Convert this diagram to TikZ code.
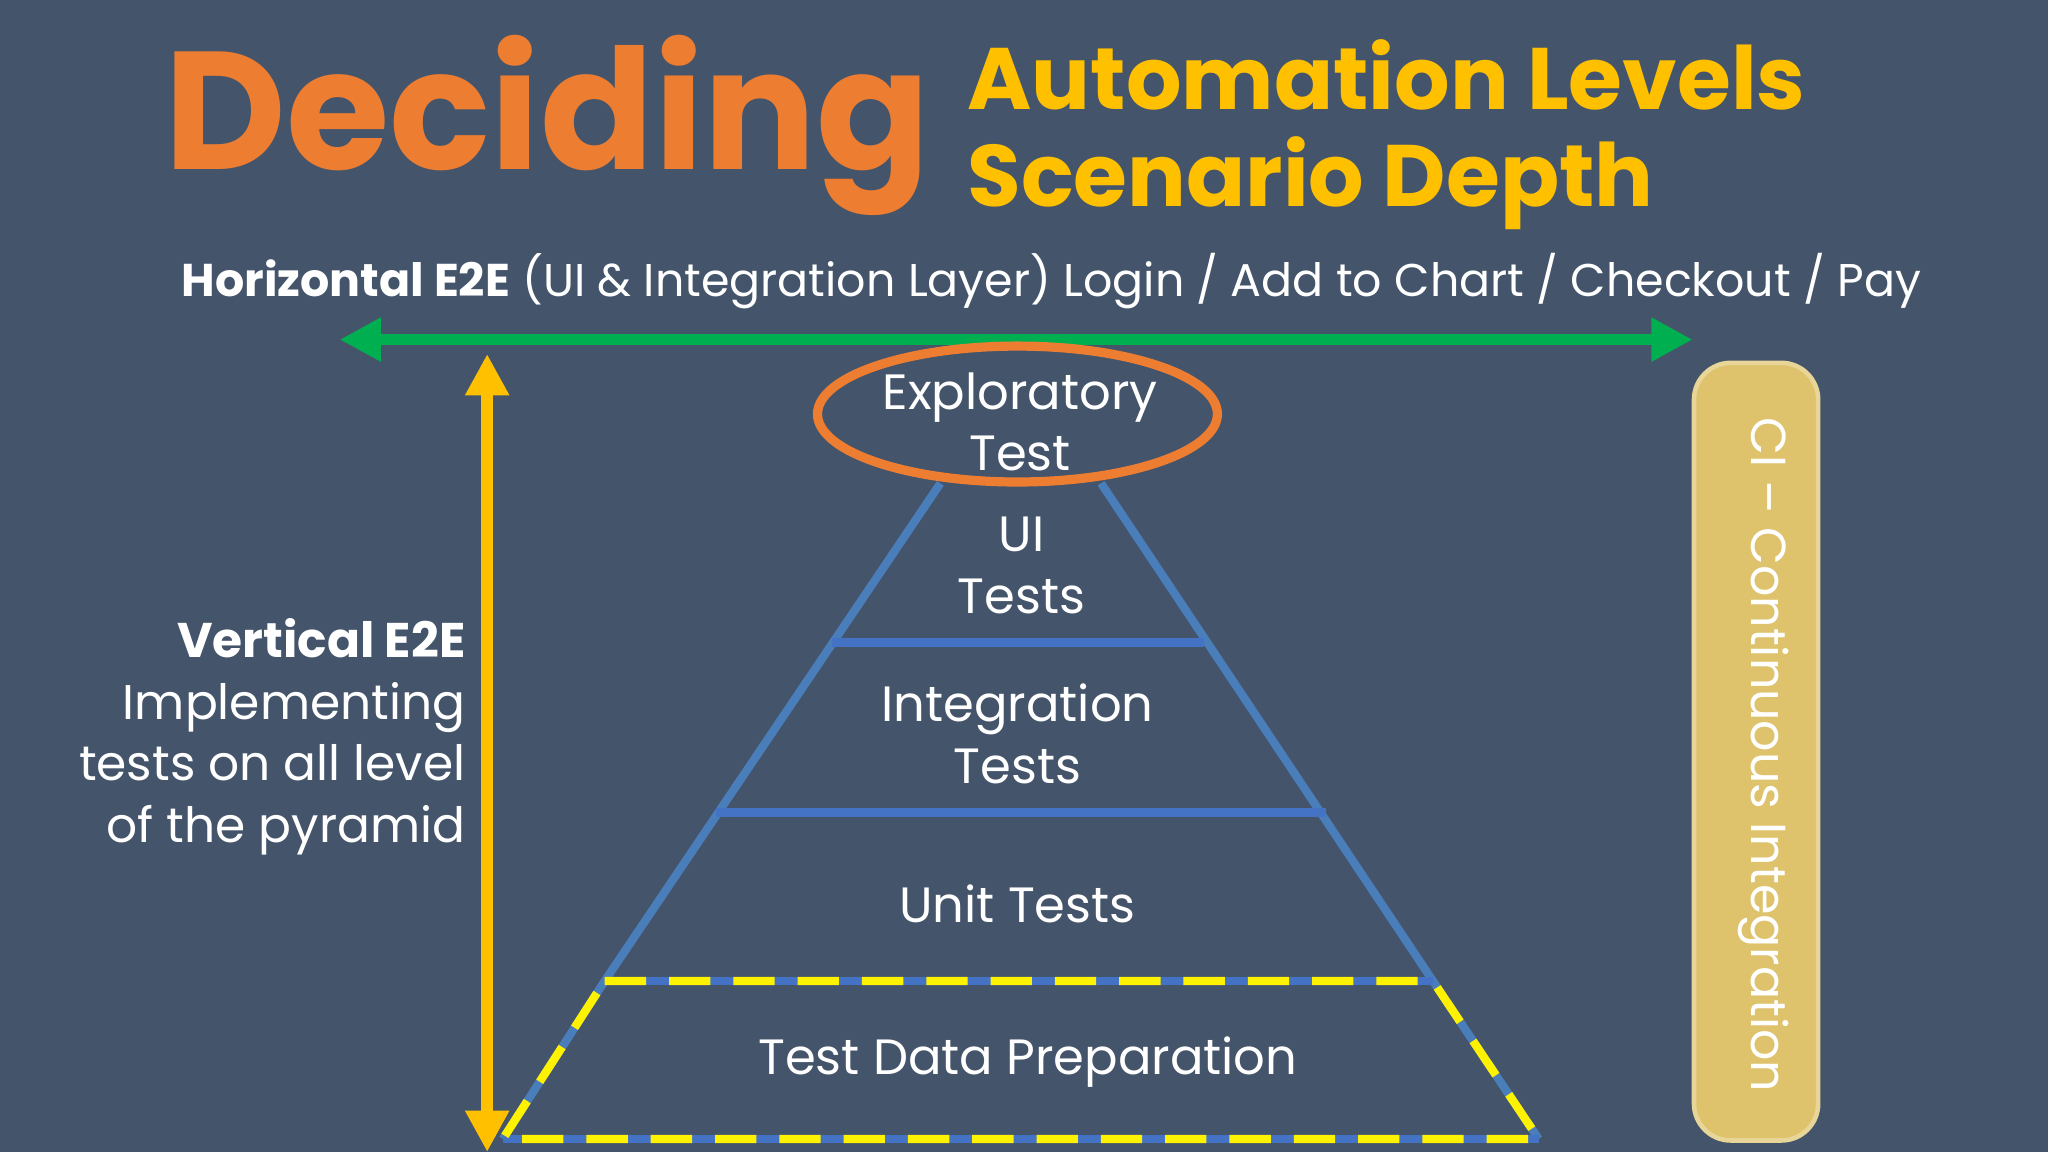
\documentclass[tikz,border=0pt]{standalone}
\usepackage{fontspec}
\setmainfont{Poppins}
\usetikzlibrary{arrows.meta,shapes.geometric}
\definecolor{bg}{HTML}{44546A}
\definecolor{org}{HTML}{ED7D31}
\definecolor{gld}{HTML}{FFC000}
\definecolor{grn}{HTML}{00B050}
\definecolor{pyr}{HTML}{4A7EBB}
\definecolor{lay}{HTML}{4472C4}
\definecolor{ci}{HTML}{DEC36C}
\tikzset{
 lbl/.style={text=white,font=\fontsize{10.8}{13.4}\selectfont,align=center,inner sep=0},
 side/.style={pyr,line width=1.8pt},
 layer/.style={lay,line width=1.8pt},
}
\begin{document}
\begin{tikzpicture}[x=0.01cm,y=-0.01cm]
\fill[bg] (0,0) rectangle (1568,882);
\useasboundingbox (0,0) rectangle (1568,882);
\node[anchor=base west,text=org,inner sep=0,font=\fontsize{36.5}{40}\selectfont\bfseries] (dec) at (125,130) {Deciding};
\node[anchor=base west,text=gld,inner sep=0,font=\fontsize{19}{25}\selectfont\bfseries] (al) at (740,84) {Automation Levels};
\node[anchor=base west,text=gld,inner sep=0,font=\fontsize{19}{25}\selectfont\bfseries] (sd) at (740,158) {Scenario Depth};
\node[anchor=base,text=white,inner sep=0,font=\fontsize{10}{14}\selectfont] (hz) at (805,227) {\textbf{Horizontal E2E} (UI \& Integration Layer) Login / Add to Chart / Checkout / Pay};
\coordinate (gl) at (260,260); \coordinate (gr) at (1296,260);
\draw[grn,line width=2.5pt,{Triangle[width=9pt,length=9pt]}-{Triangle[width=9pt,length=9pt]}] (gl) -- (gr);
\coordinate (vt) at (373,271); \coordinate (vb) at (373,882);
\draw[gld,line width=2.5pt,{Triangle[width=9pt,length=9pt]}-{Triangle[width=9pt,length=9pt]}] (vt) -- (vb);
\node[anchor=north east,text=white,align=right,inner sep=0,font=\fontsize{10.6}{13.4}\selectfont] (ve) at (357,473) {\textbf{Vertical E2E}\\Implementing\\tests on all level\\of the pyramid};
% pyramid
\coordinate (la) at (720,370); \coordinate (ra) at (843,370);
\coordinate (l1) at (637,492); \coordinate (r1) at (922,492);
\coordinate (l2) at (548,622); \coordinate (r2) at (1015,622);
\coordinate (l3) at (463,751); \coordinate (r3) at (1097,751);
\coordinate (l4) at (385,872); \coordinate (r4) at (1178,872);
\draw[side] (la) -- (l3) -- (l4);
\draw[side] (ra) -- (r3) -- (r4);
\draw[layer] (l1) -- (r1);
\draw[layer] (l2) -- (r2);
\draw[layer] (l3) -- (r3);
\draw[layer] (l4) -- (r4);
\draw[yellow,line width=1.8pt,dash pattern=on 9pt off 5pt] (l3) -- (r3) -- (r4) -- (l4) -- cycle;
\node[ellipse,draw=org,line width=2pt,fill=bg,minimum width=3.06cm,minimum height=1.04cm,inner sep=0] (ex) at (779,317) {};
\node[lbl] (ext) at (781,323) {Exploratory\\Test};
\node[lbl] (ui) at (782,433) {UI\\Tests};
\node[lbl] (it) at (779,562) {Integration\\Tests};
\node[lbl] (ut) at (779,692) {Unit Tests};
\node[lbl] (td) at (787,813) {Test Data Preparation};
\node[draw=ci!70!white,fill=ci,rounded corners=8pt,line width=1pt,minimum width=0.95cm,minimum height=5.95cm,inner sep=0] (cib) at (1344.5,575.5) {};
\node[rotate=-90,text=white,inner sep=0,font=\fontsize{10.7}{15}\selectfont] (cit) at (1350,578) {CI – Continuous Integration};
\end{tikzpicture}
\end{document}
